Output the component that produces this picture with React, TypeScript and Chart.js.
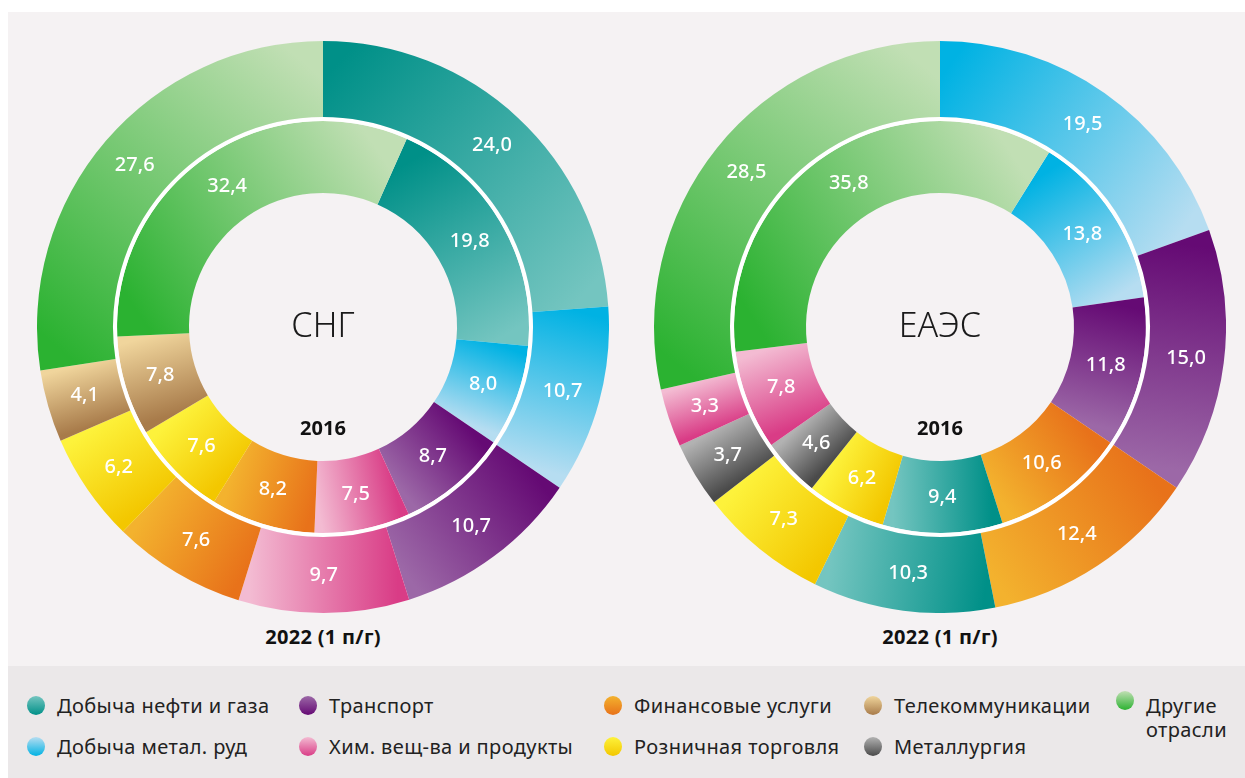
import React, { useEffect, useRef } from "react";
import { Chart, registerables } from "chart.js";

Chart.register(...registerables);

// ---------- data ----------
const CIS_CATEGORIES = [
  "Добыча нефти и газа",
  "Добыча метал. руд",
  "Транспорт",
  "Хим. вещ-ва и продукты",
  "Финансовые услуги",
  "Розничная торговля",
  "Телекоммуникации",
  "Другие отрасли",
];
const CIS_2022 = [24.0, 10.7, 10.7, 9.7, 7.6, 6.2, 4.1, 27.6];
const CIS_2016 = [19.8, 8.0, 8.7, 7.5, 8.2, 7.6, 7.8, 32.4];

const EAEU_CATEGORIES = [
  "Добыча метал. руд",
  "Транспорт",
  "Финансовые услуги",
  "Добыча нефти и газа",
  "Розничная торговля",
  "Металлургия",
  "Хим. вещ-ва и продукты",
  "Другие отрасли",
];
const EAEU_2022 = [19.5, 15.0, 12.4, 10.3, 7.3, 3.7, 3.3, 28.5];
const EAEU_2016 = [13.8, 11.8, 10.6, 9.4, 6.2, 4.6, 7.8, 35.8];

const CENTER_LABELS = ["СНГ", "ЕАЭС"];
const INNER_YEAR = "2016";
const OUTER_YEAR = "2022 (1 п/г)";

const LEGEND_ROW_1 = [
  "Добыча нефти и газа",
  "Транспорт",
  "Финансовые услуги",
  "Телекоммуникации",
  "Другие отрасли",
];
const LEGEND_ROW_2 = [
  "Добыча метал. руд",
  "Хим. вещ-ва и продукты",
  "Розничная торговля",
  "Металлургия",
];

// ---------- styles ----------
const PALETTE: Record<string, [string, string]> = {
  "Добыча нефти и газа": ["#009088", "#74c5c0"],
  "Добыча метал. руд": ["#00b2e3", "#b6ddf1"],
  "Транспорт": ["#650a74", "#9c68a7"],
  "Хим. вещ-ва и продукты": ["#d93c86", "#f3bbd2"],
  "Финансовые услуги": ["#e8721a", "#f3b22e"],
  "Розничная торговля": ["#f3c700", "#fdf23b"],
  "Телекоммуникации": ["#a87b4a", "#f0d59c"],
  "Металлургия": ["#4a4a4a", "#b2b2b2"],
  "Другие отрасли": ["#2bb231", "#c1dfb4"],
};

const FONT = "'Noto Sans', 'DejaVu Sans', sans-serif";
const SIZE = 572;

function fmt(v: number) {
  return v.toFixed(1).replace(".", ",");
}

function segmentGradient(ctx: any) {
  const ds = ctx.dataset;
  const cats: string[] = ds.categories;
  const color = PALETTE[cats[ctx.dataIndex]];
  const chart = ctx.chart;
  const area = chart.chartArea;
  const ctrl: any = chart.getDatasetMeta(ctx.datasetIndex).controller;
  const rIn = ctrl && ctrl.innerRadius ? ctrl.innerRadius : 0;
  const rOut = ctrl && ctrl.outerRadius ? ctrl.outerRadius : 0;
  if (!area || !(rOut > 0)) return color[0];
  const cx = (area.left + area.right) / 2;
  const cy = (area.top + area.bottom) / 2;
  const r = (rIn + rOut) / 2;
  const data: number[] = ds.data;
  const total = data.reduce((a, b) => a + b, 0);
  let before = 0;
  for (let i = 0; i < ctx.dataIndex; i++) before += data[i];
  const rot = ds.rotation || 0;
  const a0 = ((rot + (before / total) * 360) * Math.PI) / 180;
  const a1 = ((rot + ((before + data[ctx.dataIndex]) / total) * 360) * Math.PI) / 180;
  const g = chart.ctx.createLinearGradient(
    cx + r * Math.sin(a0),
    cy - r * Math.cos(a0),
    cx + r * Math.sin(a1),
    cy - r * Math.cos(a1)
  );
  g.addColorStop(0, color[0]);
  g.addColorStop(1, color[1]);
  return g;
}

const valueLabels = {
  id: "valueLabels",
  afterDatasetsDraw(chart: any) {
    const c = chart.ctx;
    chart.data.datasets.forEach((ds: any, di: number) => {
      if (!ds.categories) return;
      const meta = chart.getDatasetMeta(di);
      meta.data.forEach((arc: any, i: number) => {
        const p = arc.getCenterPoint();
        c.save();
        c.fillStyle = "#ffffff";
        c.font = `500 20px ${FONT}`;
        c.textAlign = "center";
        c.textBaseline = "middle";
        c.fillText(fmt(ds.data[i]), p.x, p.y);
        c.restore();
      });
    });
  },
};

function Donut(props: {
  cats: string[];
  outer: number[];
  inner: number[];
  innerRotation: number;
}) {
  const ref = useRef<HTMLCanvasElement>(null);
  useEffect(() => {
    if (!ref.current) return;
    const chart = new Chart(ref.current, {
      type: "doughnut",
      data: {
        labels: props.cats,
        datasets: [
          {
            data: props.outer,
            categories: props.cats,
            weight: 76,
            rotation: 0,
            backgroundColor: segmentGradient,
            borderWidth: 0,
          } as any,
          {
            data: [1],
            weight: 4,
            backgroundColor: "#ffffff",
            borderWidth: 0,
          } as any,
          {
            data: props.inner,
            categories: props.cats,
            weight: 72,
            rotation: props.innerRotation,
            backgroundColor: segmentGradient,
            borderWidth: 0,
          } as any,
        ],
      },
      options: {
        responsive: false,
        animation: false,
        cutout: 134,
        events: [],
        layout: { padding: 0 },
        plugins: {
          legend: { display: false },
          tooltip: { enabled: false },
        },
      } as any,
      plugins: [valueLabels],
    });
    return () => chart.destroy();
  }, []);
  return <canvas ref={ref} width={SIZE} height={SIZE} style={{ width: SIZE, height: SIZE }} />;
}

function Marker({ name, top }: { name: string; top: number }) {
  const [dark, light] = PALETTE[name];
  return (
    <span
      style={{
        position: "absolute",
        left: -30,
        top,
        width: 18,
        height: 19,
        borderRadius: "50%",
        background: `linear-gradient(to bottom, ${light}, ${dark})`,
      }}
    />
  );
}

export default function App() {
  const legendCols = [49, 321, 626, 886, 1138];
  const textStyle: React.CSSProperties = {
    position: "absolute",
    fontFamily: FONT,
    fontSize: 20,
    letterSpacing: 0.4,
    color: "#222",
    whiteSpace: "nowrap",
    lineHeight: "24px",
  };
  const centerTxt = (x: number, y: number, text: string, extra: React.CSSProperties) => (
    <div
      style={{
        position: "absolute",
        left: x,
        top: y,
        transform: "translate(-50%, -50%)",
        fontFamily: FONT,
        whiteSpace: "nowrap",
        ...extra,
      }}
    >
      {text}
    </div>
  );
  const centers = [323, 940];
  return (
    <div
      style={{
        position: "absolute",
        left: 0,
        top: 0,
        width: 1245,
        height: 778,
        overflow: "hidden",
        background: "#ffffff",
      }}
    >
      <div
        style={{
          position: "absolute",
          left: 8,
          top: 12,
          width: 1237,
          height: 766,
          background: "#f5f2f3",
        }}
      >
        <div style={{ position: "absolute", left: 323 - 8 - SIZE / 2, top: 327 - 12 - SIZE / 2 }}>
          <Donut cats={CIS_CATEGORIES} outer={CIS_2022} inner={CIS_2016} innerRotation={24} />
        </div>
        <div style={{ position: "absolute", left: 940 - 8 - SIZE / 2, top: 327 - 12 - SIZE / 2 }}>
          <Donut cats={EAEU_CATEGORIES} outer={EAEU_2022} inner={EAEU_2016} innerRotation={32} />
        </div>
        {centers.map((cx, i) => (
          <React.Fragment key={i}>
            {centerTxt(cx - 8, 324 - 12, CENTER_LABELS[i], { fontSize: 34, fontWeight: 300, color: "#1a1a1a" })}
            {centerTxt(cx - 8, 427 - 12, INNER_YEAR, { fontSize: 20, fontWeight: 700, color: "#111" })}
            {centerTxt(cx - 8, 636 - 12, OUTER_YEAR, { fontSize: 20, fontWeight: 700, color: "#111", letterSpacing: 0.3 })}
          </React.Fragment>
        ))}
        <div
          style={{
            position: "absolute",
            left: 0,
            top: 654,
            width: 1237,
            height: 112,
            background: "#ebe8e9",
          }}
        >
          {LEGEND_ROW_1.map((name, i) => {
            const isLast = i === LEGEND_ROW_1.length - 1;
            if (isLast) {
              const parts = name.split(" ");
              return (
                <div key={name} style={{ ...textStyle, left: legendCols[i], top: 706 - 666 - 12 }}>
                  <Marker name={name} top={-3} />
                  <div>{parts[0]}</div>
                  <div>{parts[1]}</div>
                </div>
              );
            }
            return (
              <div key={name} style={{ ...textStyle, left: legendCols[i], top: 706 - 666 - 12 }}>
                <Marker name={name} top={2} />
                {name}
              </div>
            );
          })}
          {LEGEND_ROW_2.map((name, i) => (
            <div key={name} style={{ ...textStyle, left: legendCols[i], top: 747 - 666 - 12 }}>
              <Marker name={name} top={2} />
              {name}
            </div>
          ))}
        </div>
      </div>
    </div>
  );
}
